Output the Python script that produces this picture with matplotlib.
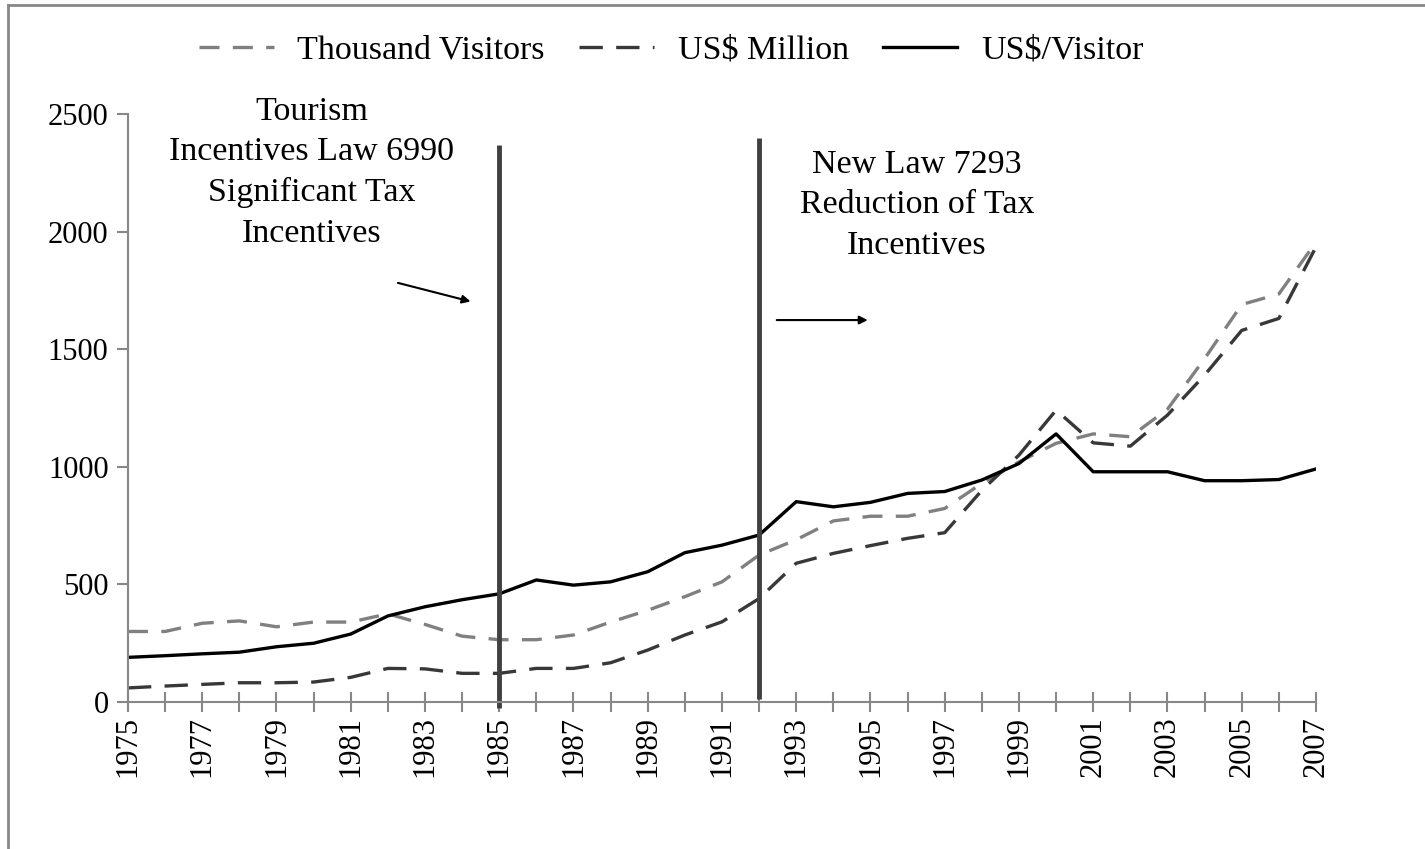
import matplotlib
matplotlib.use("Agg")
import matplotlib.pyplot as plt
from matplotlib.lines import Line2D

plt.rcParams['font.family'] = ['Liberation Serif', 'DejaVu Serif']

years = list(range(1975, 2008))
visitors = [300, 300, 335, 345, 320, 340, 340, 375, 330, 280, 265, 265, 285, 340, 390, 448, 511, 625,
            690, 770, 790, 790, 823, 930, 1021, 1100, 1140, 1128, 1245, 1460, 1690, 1735, 1955]
usd_million = [60, 68, 75, 82, 82, 85, 105, 143, 141, 122, 122, 143, 143, 167, 221, 285, 341, 440,
               590, 632, 665, 696, 720, 900, 1050, 1241, 1102, 1088, 1220, 1390, 1580, 1631, 1935]
usd_per_visitor = [190, 197, 205, 212, 235, 250, 289, 366, 405, 435, 460, 519, 497, 511, 554, 635, 667, 710,
                   852, 830, 849, 887, 895, 944, 1014, 1140, 979, 979, 979, 941, 941, 946, 991]
law_years = [1985, 1992]
xtick_years = list(range(1975, 2008, 2))

fig = plt.figure(figsize=(14.25, 8.49), dpi=100)
ax = fig.add_axes([0.0898, 0.1731, 0.8337, 0.6926])

ax.plot(years, visitors, color='#808080', lw=2.4, dashes=(6, 4), label='Thousand Visitors')
ax.plot(years, usd_million, color='#383838', lw=2.4, dashes=(7, 4), label='US$ Million')
ax.plot(years, usd_per_visitor, color='black', lw=2.4, label='US$/Visitor')

for yr, top, bot in zip(law_years, [2370, 2400], [-25, 15]):
    ax.plot([yr, yr], [bot, top], color='#404040', lw=3.5, clip_on=False, solid_capstyle='butt')

ax.set_xlim(1975, 2007)
ax.set_ylim(0, 2500)
ax.set_yticks(range(0, 2501, 500))
ax.set_xticks(xtick_years)
ax.set_xticklabels([str(y) for y in xtick_years], rotation=90)
ax.set_xticks(years, minor=True)

for s in ['top', 'right']:
    ax.spines[s].set_visible(False)
for s in ['left', 'bottom']:
    ax.spines[s].set_color('#888888')
    ax.spines[s].set_linewidth(1.5)

ax.tick_params(axis='y', direction='out', length=8, width=1.5, color='#888888', labelsize=22, pad=6)
ax.tick_params(axis='x', which='both', direction='inout', length=14, width=1.5, color='#888888',
               labelsize=22, pad=3)

ax.text(1979.95, 2575, 'Tourism\nIncentives Law 6990\nSignificant Tax\nIncentives', ha='center', va='top',
        fontsize=24.5, linespacing=1.42)
ax.text(1996.25, 2350, 'New Law 7293\nReduction of Tax\nIncentives', ha='center', va='top',
        fontsize=24.5, linespacing=1.42)
ax.annotate('', xy=(1984.3, 1700), xytext=(1982.2, 1785),
            arrowprops=dict(arrowstyle='-|>', color='black', lw=1.5, mutation_scale=12))
ax.annotate('', xy=(1995.0, 1624), xytext=(1992.4, 1624),
            arrowprops=dict(arrowstyle='-|>', color='black', lw=1.5, mutation_scale=12))

fig.legend(loc='upper center', bbox_to_anchor=(0.471, 0.995), ncol=3, frameon=False, fontsize=24.5,
           handlelength=2.2, columnspacing=1.0, handletextpad=0.7)

# figure border (only top and left visible in the original)
fig.add_artist(Line2D([8 / 1425, 1.0], [1 - 5 / 849, 1 - 5 / 849], transform=fig.transFigure,
                      color='#888888', lw=2))
fig.add_artist(Line2D([8 / 1425, 8 / 1425], [0.0, 1 - 5 / 849], transform=fig.transFigure,
                      color='#888888', lw=2))

fig.savefig('out.png', dpi=100)
